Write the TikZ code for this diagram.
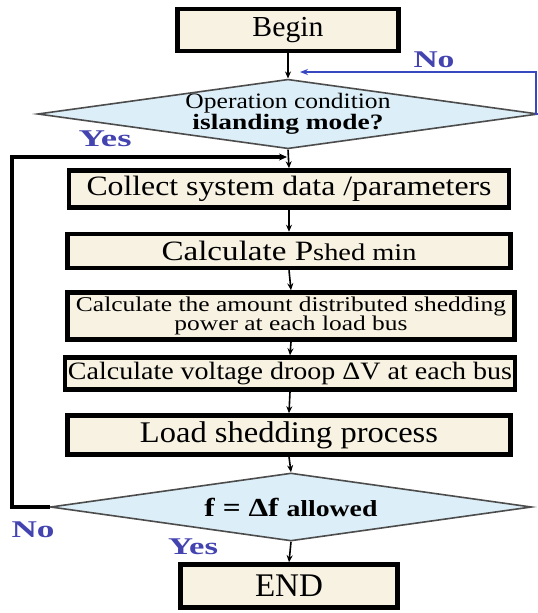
\documentclass[tikz,border=0pt]{standalone}
\usepackage{fontspec}
\setmainfont{Liberation Serif}
\usetikzlibrary{shapes.geometric,arrows.meta}
\definecolor{cream}{HTML}{F8F2E2}
\definecolor{lblue}{HTML}{DCEEF7}
\definecolor{lbltxt}{HTML}{4444B0}
\definecolor{bline}{HTML}{3848C0}
\newcommand{\wtext}[2]{\resizebox{#1pt}{\height}{#2}}
\newcommand{\fsz}[2]{\fontsize{#1pt}{#2pt}\selectfont}
\begin{document}
\begin{tikzpicture}[x=1pt,y=-1pt,
  procbox/.style={draw=black, line width=4.5pt, fill=cream, inner sep=0pt, align=center},
  decbox/.style={diamond, draw=black!70, line width=1.6pt, fill=lblue, inner sep=0pt, aspect=7.2, align=center},
  conn/.style={-{Stealth[length=7pt,width=6pt]}, line width=1.6pt, black},
  loopline/.style={-{Stealth[length=8pt,width=7pt]}, line width=3.5pt, black},
  noline/.style={-{Stealth[length=8pt,width=6pt]}, line width=2pt, bline},
  lbl/.style={text=lbltxt, font=\bfseries\fsz{24}{24}, inner sep=0pt}]
\useasboundingbox (0,0) rectangle (538,613);
\fill[white] (0,0) rectangle (538,613);

\node[procbox, minimum width=221pt, minimum height=42pt] (begin) at (288,30) {\fsz{29}{29}\wtext{71}{Begin}};
\node[decbox, minimum width=489pt, minimum height=68pt, font=\fsz{22}{19}] (d1) at (288,114) {\wtext{205}{Operation condition}\\ \wtext{191}{\textbf{islanding mode?}}};
\node[procbox, minimum width=440pt, minimum height=37pt] (collect) at (289,189) {\fsz{28}{28}\wtext{405}{Collect system data /parameters}};
\node[procbox, minimum width=443pt, minimum height=34pt] (pshed) at (289,251) {\wtext{255}{\fsz{28}{28}Calculate P\fsz{24}{24}shed min}};
\node[procbox, minimum width=447pt, minimum height=47pt, font=\fsz{21}{19.5}] (amount) at (291,316) {\wtext{430}{Calculate the amount distributed shedding}\\ \wtext{233}{power at each load bus}};
\node[procbox, minimum width=450pt, minimum height=32pt] (volt) at (290,373.5) {\fsz{25}{25}\wtext{444}{Calculate voltage droop ΔV at each bus}};
\node[procbox, minimum width=443pt, minimum height=39pt] (load) at (289,435) {\fsz{30}{30}\wtext{298}{Load shedding process}};
\node[decbox, minimum width=481pt, minimum height=68pt] (d2) at (291,507) {\wtext{173}{\bfseries\fsz{26}{26}f = Δf \fsz{23}{23}allowed}};
\node[procbox, minimum width=217pt, minimum height=43pt] (end) at (289,586) {\fsz{33}{33}\wtext{68}{END}};

\coordinate (j1) at (288,72);
\coordinate (nr) at (536,72);
\coordinate (ne) at (536,114);
\coordinate (j2) at (289,157);
\coordinate (lt) at (12,157);
\coordinate (lb) at (12,507);

\draw[conn] (begin.south) -- (d1.north);
\draw[noline, shorten >=12pt] (d1.east) -- (ne) -- (nr) -- (j1);
\draw[conn] (d1.south) -- (collect.north);
\draw[loopline, shorten >=2pt] (d2.west) -- (lb) -- (lt) -- (j2);
\draw[conn] (collect.south) -- (pshed.north);
\draw[conn] (pshed.south) -- (amount.north);
\draw[conn] (amount.south) -- (volt.north);
\draw[conn] (volt.south) -- (load.north);
\draw[conn] (load.south) -- (d2.north);
\draw[conn] (d2.south) -- (end.north);

\node[lbl] (no1) at (434,60) {\wtext{41}{No}};
\node[lbl] (yes1) at (105,139) {\wtext{53}{Yes}};
\node[lbl] (no2) at (33,530) {\wtext{43}{No}};
\node[lbl] (yes2) at (193,547) {\wtext{50}{Yes}};
\end{tikzpicture}
\end{document}
